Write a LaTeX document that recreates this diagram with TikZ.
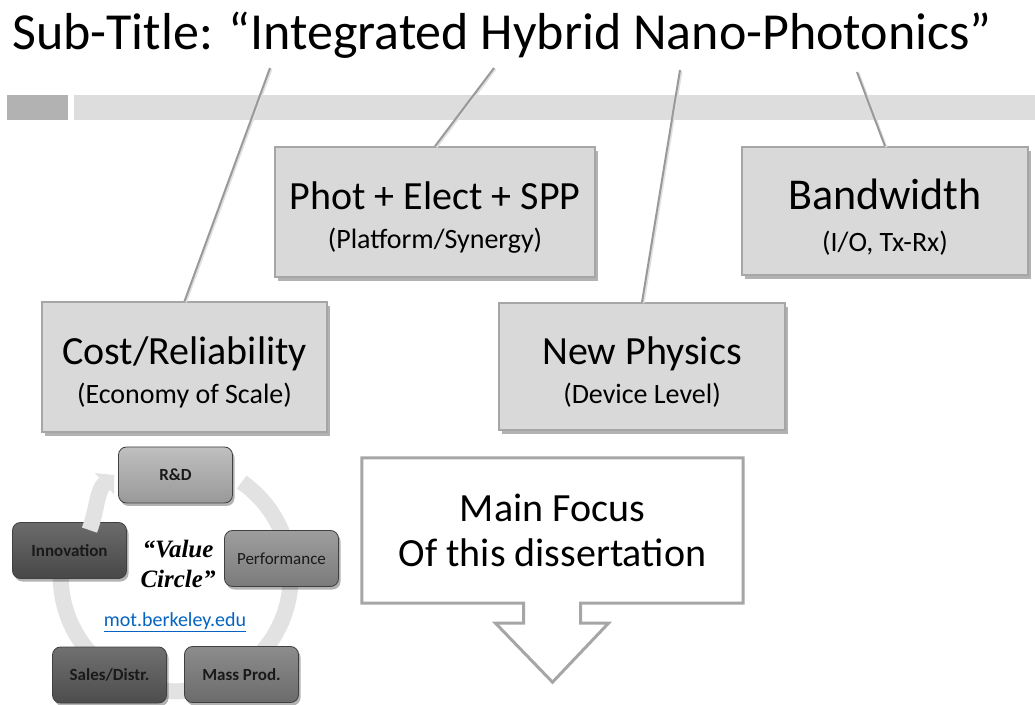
\documentclass[tikz,border=0pt]{standalone}
\usepackage{fontspec}
\setmainfont{Carlito}
\newfontfamily\valuefont{Liberation Serif}
\usetikzlibrary{positioning,shadows,arrows.meta,calc,backgrounds}
\definecolor{figGris}{RGB}{166,166,166}
\definecolor{figGrisFond}{RGB}{217,217,217}
\definecolor{figBarre}{RGB}{221,221,221}
\definecolor{figCarre}{RGB}{178,178,178}
\definecolor{figAnneau}{RGB}{226,226,226}
\definecolor{figLien}{RGB}{5,99,193}
\definecolor{figTexte}{RGB}{25,25,25}
\newcommand{\petit}{\fontsize{28}{39}\selectfont}
\newcommand{\haut}[1]{\rule{0pt}{#1}}

\begin{document}
\begin{tikzpicture}[
  x=1pt, y=1pt, every node/.style={inner sep=0pt},
  topic/.style={draw=figGris, line width=1.5pt, fill=figGrisFond, align=center,
                font=\fontsize{40}{39}\selectfont,
                drop shadow={shadow xshift=3pt, shadow yshift=-4pt, fill=black, opacity=0.3}},
  stage/.style={draw=black!75, line width=0.8pt, rounded corners=8pt, minimum width=114pt,
                minimum height=56pt, font=\fontsize{17}{20}\selectfont\bfseries, text=figTexte,
                drop shadow={shadow xshift=2pt, shadow yshift=-3pt, fill=black, opacity=0.3}},
  link/.style={draw=black!40, line width=2pt,
               general shadow={shadow xshift=1.5pt, shadow yshift=-1pt, draw=black!12, line width=2pt}},
  ring/.style={draw=figAnneau, line width=16pt},
  focuscall/.style={draw=figGris, line width=3pt, fill=white, line join=miter}
]
\useasboundingbox (0,0) rectangle (1035,704);

\fill[figCarre] (7,584) rectangle (68,609);
\fill[figBarre] (74,584) rectangle (1035,609);

\node[anchor=base west, font=\fontsize{52}{60}\selectfont] (title) at (12,654)
     {Sub-Title: “Integrated Hybrid Nano-Photonics”};

\coordinate (t1) at (270,636);
\coordinate (t2) at (494,636);
\coordinate (t3) at (680,634);
\coordinate (t4) at (857,632);

\node[topic, minimum width=320pt, minimum height=130pt] (phot) at (435,492)
     {\haut{38pt}Phot + Elect + SPP\\{\petit (Platform/Synergy)}};
\node[topic, minimum width=286pt, minimum height=128pt, font=\fontsize{44}{42}\selectfont] (band) at (885,493)
     {\haut{42pt}Bandwidth\\{\petit (I/O, Tx-Rx)}};
\node[topic, minimum width=285pt, minimum height=130pt] (cost) at (184.5,337)
     {\haut{38pt}Cost/Reliability\\{\petit (Economy of Scale)}};
\node[topic, minimum width=286pt, minimum height=127pt] (newph) at (642,337.5)
     {\haut{38pt}New Physics\\{\petit (Device Level)}};

\draw[link] (t1) -- (cost.north);
\draw[link] (t2) -- (phot.north);
\draw[link] (t3) -- (newph.north);
\draw[link] (t4) -- (band.north);

\coordinate (centre) at (175.7,127.7);
\draw[ring] ($(centre)+(55:115)$) arc[start angle=55, end angle=-205, radius=115];

\node[stage, top color=black!25, bottom color=black!40] (rnd) at (175.5,229) {R\&D};
\node[stage, top color=black!58, bottom color=black!72] (inno) at (69.5,153.5) {Innovation};
\node[stage, top color=black!38, bottom color=black!52, font=\fontsize{17}{20}\selectfont] (perf) at (281.5,145.5) {Performance};
\node[stage, top color=black!56, bottom color=black!70] (sales) at (109.5,29) {Sales/Distr.};
\node[stage, top color=black!45, bottom color=black!58] (mass) at (241.5,29.5) {Mass Prod.};

\draw[ring, -{Triangle[width=28pt, length=13pt]}] ([xshift=20pt, yshift=-8pt]inno.north)
     to[out=70, in=222] ([xshift=-4pt]rnd.west);

\node[align=center, font=\valuefont\bfseries\itshape\fontsize{25}{30}\selectfont] (value) at (178,140)
     {“Value\\Circle”};
\node[font=\fontsize{20}{22}\selectfont, text=figLien] (site) at (175,82) {\underline{mot.berkeley.edu}};

\node[minimum width=381pt, minimum height=145pt, align=center,
      font=\fontsize{40}{45}\selectfont] (focus) at (552.5,173.5) {};
\draw[focuscall] (focus.south west) -- (focus.north west) -- (focus.north east) -- (focus.south east)
     -- ([xshift=28pt]focus.south) -- ++(0,-20) -- ++(28,0) -- ([yshift=-79pt]focus.south)
     -- ++(-57,59) -- ++(28,0) -- ([xshift=-29pt]focus.south) -- cycle;
\node[align=center, font=\fontsize{40}{45}\selectfont] (focustext) at (focus.center)
     {Main Focus\\Of this dissertation};
\end{tikzpicture}
\end{document}
